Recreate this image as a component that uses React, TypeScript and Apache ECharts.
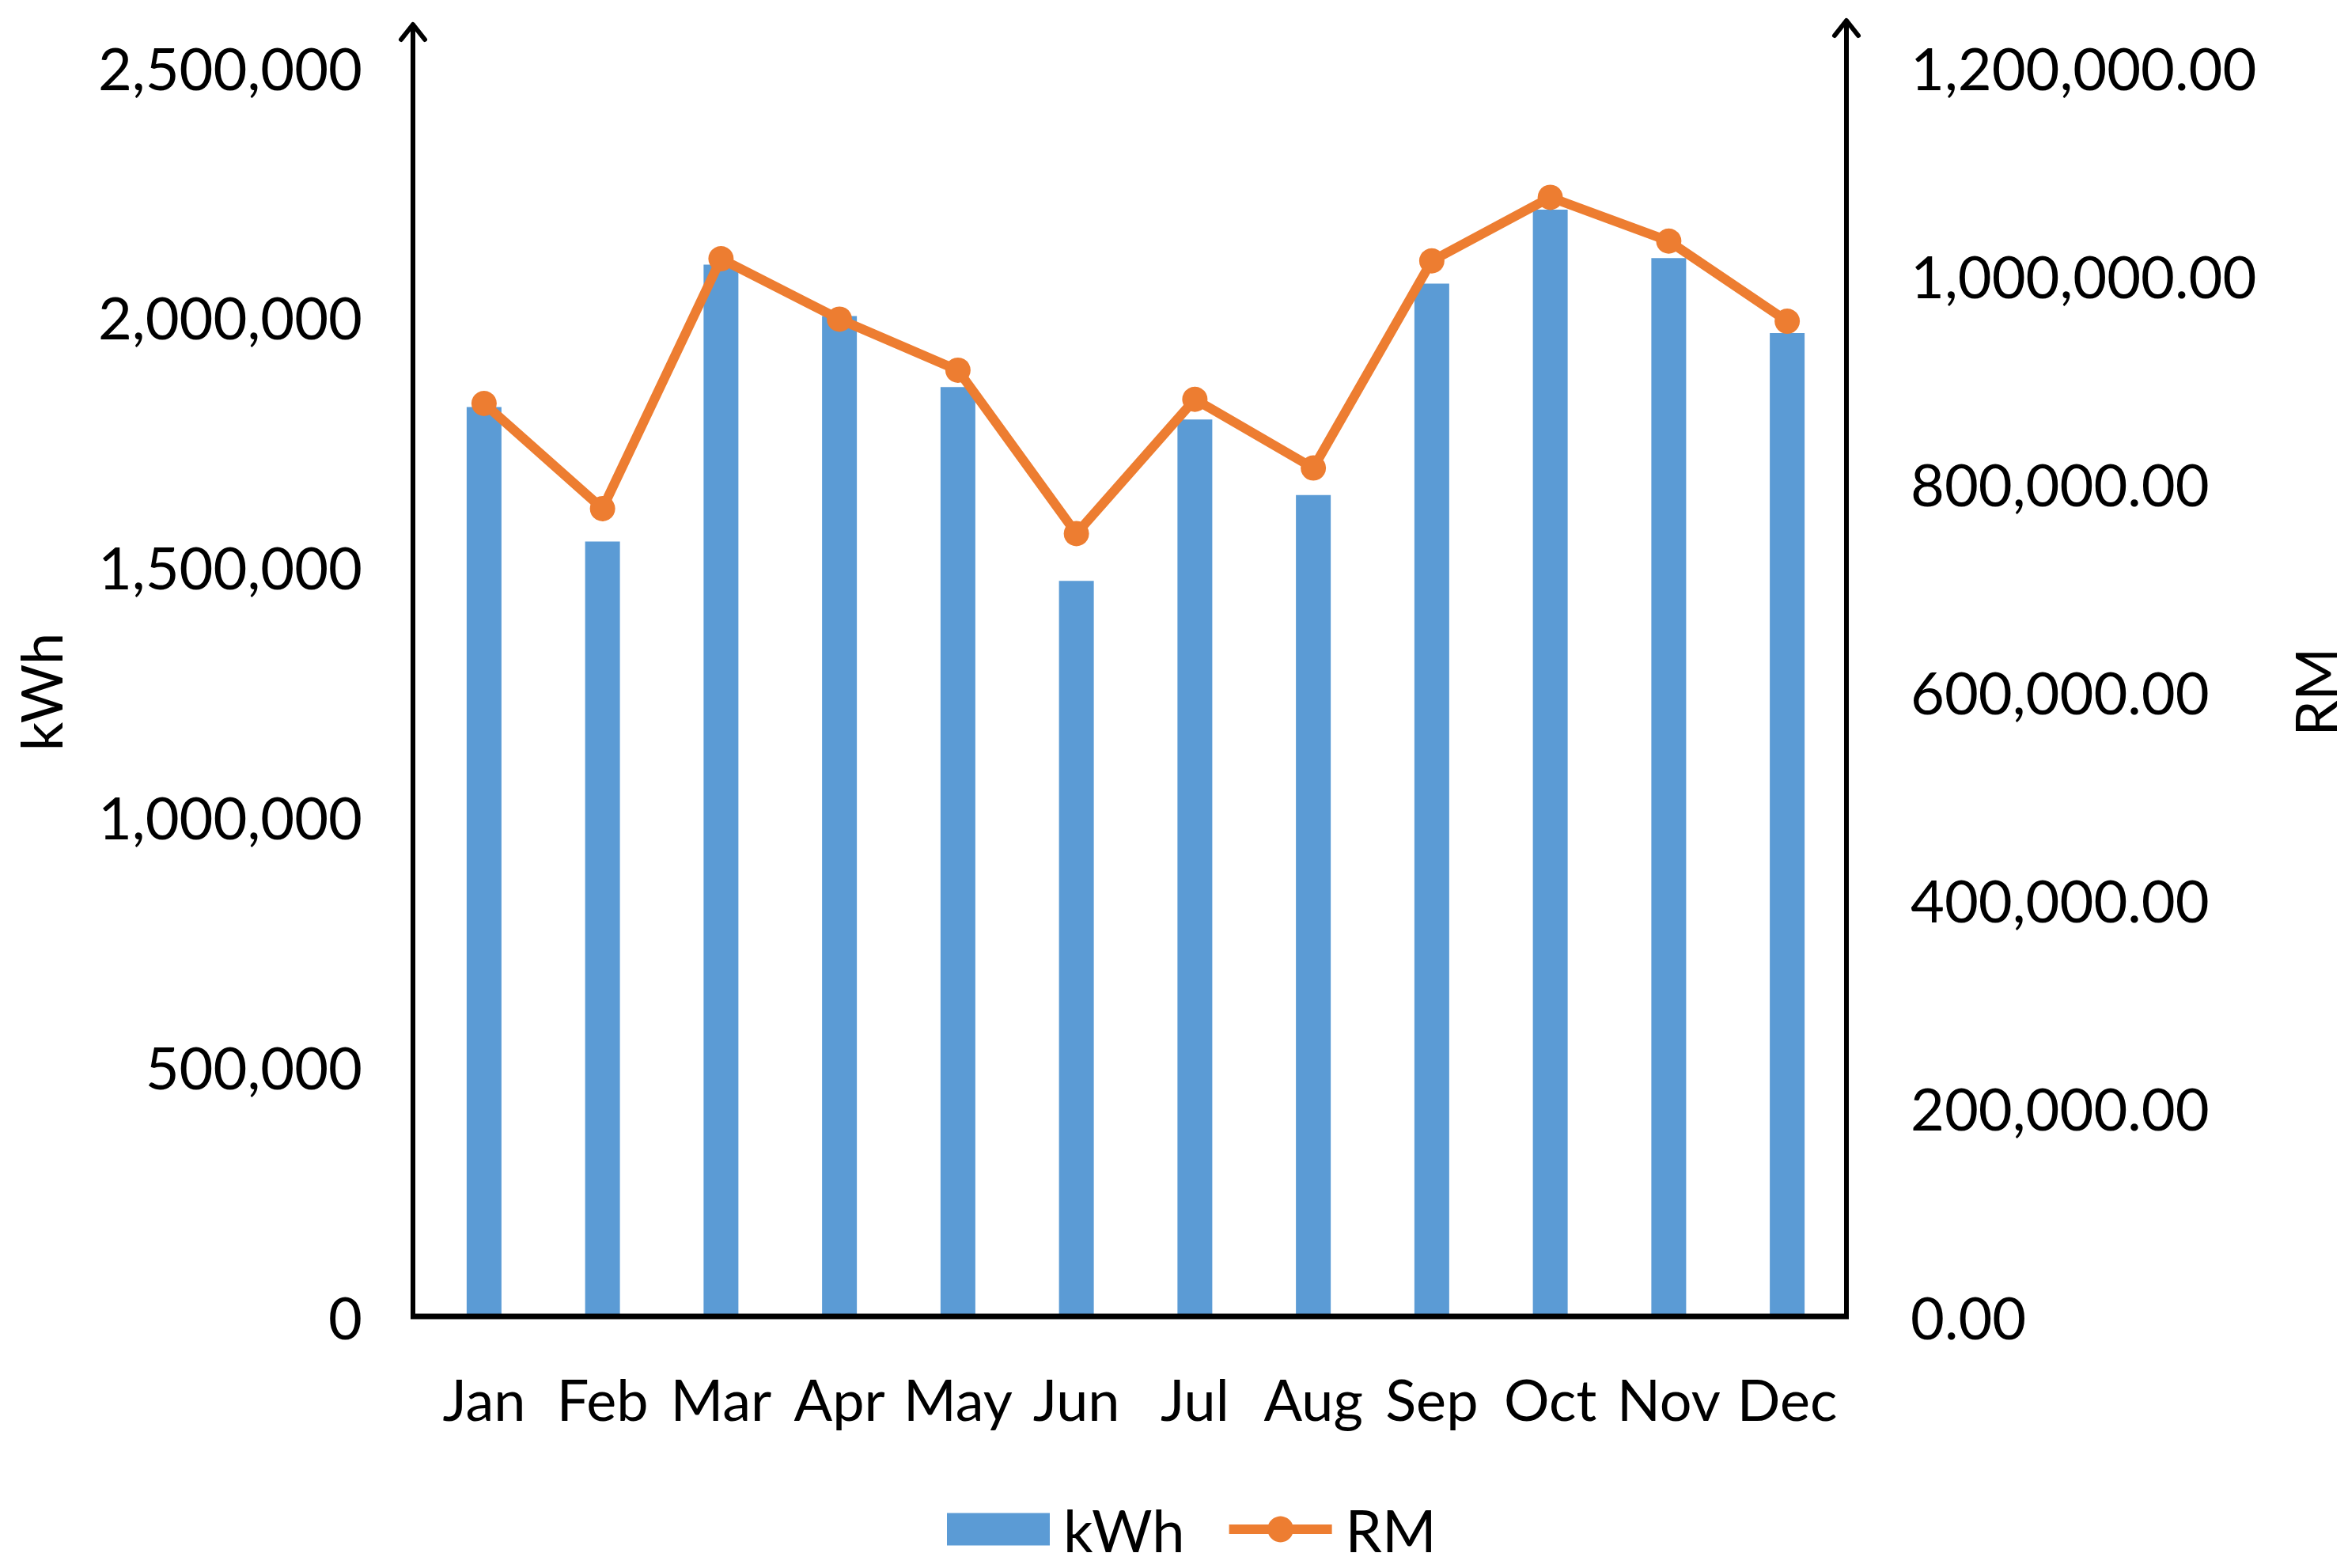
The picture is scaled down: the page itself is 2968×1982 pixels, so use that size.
import React, { useEffect, useRef } from "react";
import * as echarts from "echarts";

const months = ["Jan", "Feb", "Mar", "Apr", "May", "Jun", "Jul", "Aug", "Sep", "Oct", "Nov", "Dec"];
const kwhValues = [1820000, 1551000, 2105000, 2002000, 1860000, 1472000, 1795000, 1644000, 2067000, 2215000, 2118000, 1968000];
const rmValues = [877000, 776000, 1016000, 958000, 909000, 752000, 881000, 815000, 1014000, 1075000, 1033000, 956000];
const kwhAxis = { min: 0, max: 2500000, interval: 500000 };
const rmAxis = { min: 0, max: 1200000, interval: 200000 };

const FONT = "Lato";
const BAR_COLOR = "#5B9BD5";
const LINE_COLOR = "#ED7D31";

export default function App() {
  const ref = useRef<HTMLDivElement>(null);

  useEffect(() => {
    if (!ref.current) return;
    const chart = echarts.init(ref.current, null, { renderer: "svg" });
    const axisStroke = { stroke: "#000", lineWidth: 6, lineCap: "round", lineJoin: "round" };
    chart.setOption({
      animation: false,
      backgroundColor: "#fff",
      textStyle: { fontFamily: FONT, color: "#000" },
      grid: {
        left: 537,
        right: 634,
        top: 85,
        bottom: 318,
        containLabel: false,
        outerBoundsMode: "none",
      },
      legend: {
        left: 1192,
        top: 1891,
        itemWidth: 130,
        itemHeight: 41,
        itemGap: 50,
        textStyle: { fontFamily: FONT, fontSize: 74, color: "#000", padding: [0, 0, 0, 12] },
        data: [
          { name: "kWh", icon: "rect" },
          { name: "RM", lineStyle: { width: 12, color: LINE_COLOR } },
        ],
      },
      xAxis: {
        type: "category",
        data: months,
        axisLine: { show: false },
        axisTick: { show: false },
        splitLine: { show: false },
        axisLabel: { interval: 0, fontFamily: FONT, fontSize: 72, color: "#000", margin: 68 },
      },
      yAxis: [
        {
          type: "value",
          position: "left",
          offset: 15,
          min: kwhAxis.min,
          max: kwhAxis.max,
          interval: kwhAxis.interval,
          name: "kWh",
          nameLocation: "middle",
          nameGap: 435,
          nameRotate: 90,
          nameTextStyle: { fontFamily: FONT, fontSize: 72, color: "#000" },
          axisLine: { show: false },
          axisTick: { show: false },
          splitLine: { show: false },
          axisLabel: {
            fontFamily: FONT,
            fontSize: 74,
            color: "#000",
            margin: 64,
            formatter: (v: number) => v.toLocaleString("en-US"),
          },
        },
        {
          type: "value",
          position: "right",
          min: rmAxis.min,
          max: rmAxis.max,
          interval: rmAxis.interval,
          name: "RM",
          nameLocation: "middle",
          nameGap: 556,
          nameRotate: 90,
          nameTextStyle: { fontFamily: FONT, fontSize: 72, color: "#000" },
          axisLine: { show: false },
          axisTick: { show: false },
          splitLine: { show: false },
          axisLabel: {
            fontFamily: FONT,
            fontSize: 74,
            color: "#000",
            margin: 81,
            formatter: (v: number) =>
              v.toLocaleString("en-US", { minimumFractionDigits: 2, maximumFractionDigits: 2 }),
          },
        },
      ],
      series: [
        {
          name: "kWh",
          type: "bar",
          data: kwhValues,
          yAxisIndex: 0,
          barWidth: 44,
          itemStyle: { color: BAR_COLOR },
        },
        {
          name: "RM",
          type: "line",
          data: rmValues,
          yAxisIndex: 1,
          symbol: "circle",
          symbolSize: 32,
          lineStyle: { color: LINE_COLOR, width: 12 },
          itemStyle: { color: LINE_COLOR },
        },
      ],
      graphic: [
        { type: "line", z: 100, shape: { x1: 522, y1: 1664, x2: 522, y2: 32 }, style: axisStroke },
        { type: "polyline", z: 100, shape: { points: [[507, 50], [522, 31], [537, 50]] }, style: { ...axisStroke, fill: null } },
        { type: "line", z: 100, shape: { x1: 2334, y1: 1664, x2: 2334, y2: 27 }, style: axisStroke },
        { type: "polyline", z: 100, shape: { points: [[2319, 45], [2334, 26], [2349, 45]] }, style: { ...axisStroke, fill: null } },
        { type: "line", z: 100, shape: { x1: 519, y1: 1664, x2: 2337, y2: 1664 }, style: { stroke: "#000", lineWidth: 7 } },
      ],
    });
    return () => chart.dispose();
  }, []);

  return (
    <div
      ref={ref}
      style={{ position: "fixed", left: 0, top: 0, width: 2968, height: 1982, background: "#fff" }}
    />
  );
}
